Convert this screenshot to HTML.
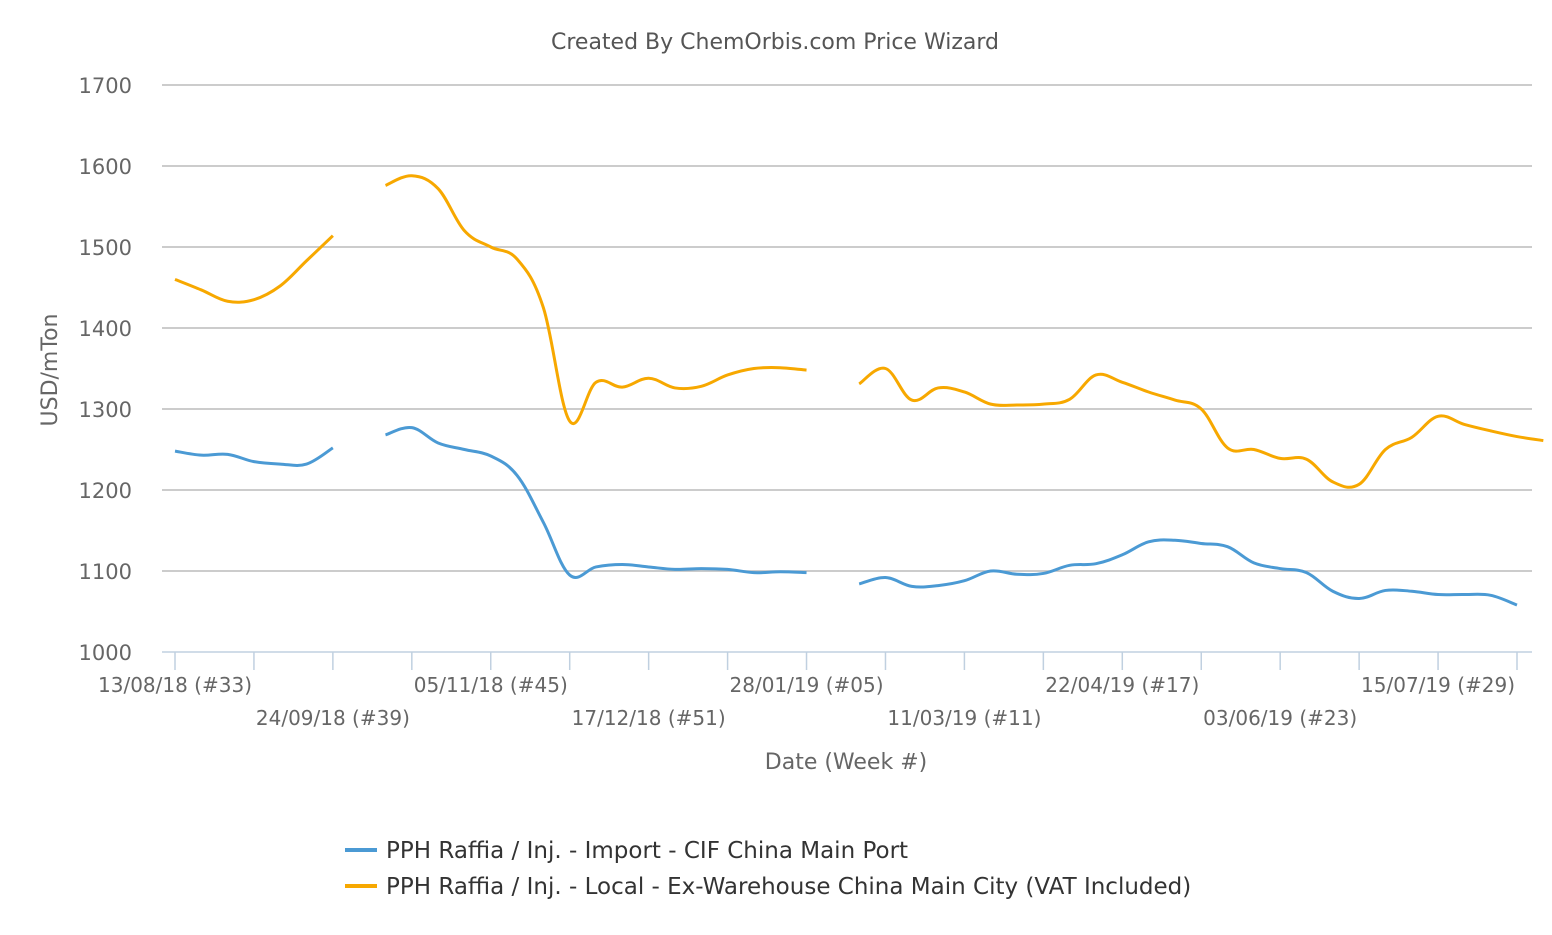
<!DOCTYPE html>
<html><head><meta charset="utf-8"><style>
body{margin:0;background:#fff;font-family:"Liberation Sans","DejaVu Sans",sans-serif}
svg text{font-family:"DejaVu Sans","Liberation Sans",sans-serif}
</style></head><body>
<svg id="c" width="1552" height="930">
<text x="775" y="49" text-anchor="middle" font-size="22" fill="#555">Created By ChemOrbis.com Price Wizard</text>
<text transform="translate(57,370) rotate(-90)" text-anchor="middle" font-size="22" fill="#666">USD/mTon</text>
<text x="846" y="769" text-anchor="middle" font-size="22" fill="#666">Date (Week #)</text>
<g id="grid"></g><g id="xt"></g><g id="series"></g>
<g>
<g><line x1="345" y1="850" x2="377" y2="850" stroke="#4b9ad4" stroke-width="4"/><text x="386" y="858" font-size="23" fill="#333">PPH Raffia / Inj. - Import - CIF China Main Port</text></g>
<g><line x1="345" y1="886" x2="377" y2="886" stroke="#f7a800" stroke-width="4"/><text x="386" y="894" font-size="23" fill="#333">PPH Raffia / Inj. - Local - Ex-Warehouse China Main City (VAT Included)</text></g>
</g>
</svg>
<script>
const yTicks=[1000,1100,1200,1300,1400,1500,1600,1700];
const xLabels=["13/08/18 (#33)","24/09/18 (#39)","05/11/18 (#45)","17/12/18 (#51)","28/01/19 (#05)","11/03/19 (#11)","22/04/19 (#17)","03/06/19 (#23)","15/07/19 (#29)"];
const importVals=[1248,1243,1244,1235,1232,1232,1252,null,1268,1277,1258,1250,1242,1218,1160,1095,1105,1108,1105,1102,1103,1102,1098,1099,1098,null,1084,1092,1081,1082,1088,1100,1096,1097,1107,1109,1120,1136,1138,1134,1130,1110,1103,1098,1075,1066,1076,1075,1071,1071,1070,1058];
const localVals=[1460,1447,1433,1435,1452,1483,1514,null,1576,1588,1572,1520,1500,1485,1425,1285,1333,1327,1338,1326,1328,1342,1350,1351,1348,null,1331,1350,1311,1326,1321,1306,1305,1306,1312,1342,1333,1321,1311,1300,1252,1250,1239,1238,1210,1207,1250,1265,1291,1281,1273,1266,1261];
const NS="http://www.w3.org/2000/svg";
const X=i=>175+i*(1517-175)/51;
const Y=v=>652-(v-1000)*(652-85)/700;
function mk(t,a,p){const e=document.createElementNS(NS,t);for(const k in a)e.setAttribute(k,a[k]);p.appendChild(e);return e;}
const grid=document.getElementById('grid');
yTicks.forEach(v=>{
 const l=mk('line',{x1:162,x2:1532,y1:Y(v),y2:Y(v),stroke:v===1000?'#c0d0e0':'#bbb','stroke-width':1.5},grid);
 
 
 const t=mk('text',{x:132,y:Y(v)+8,'text-anchor':'end','font-size':21,fill:'#666'},grid);
 t.textContent=v;
 
 
});
const xt=document.getElementById('xt');
for(let i=0;i<=51;i+=3){
 const l=mk('line',{x1:X(i),x2:X(i),y1:652,y2:670,stroke:'#c0d0e0','stroke-width':1.5},xt);
 
 
}
xLabels.forEach((s,k)=>{
 const t=mk('text',{x:X(k*6),y:k%2?725:692,'text-anchor':'middle','font-size':20,fill:'#666'},xt);
 t.textContent=s;
 
 
});
function path(vals){
 let segs=[],cur=[];
 vals.forEach((v,i)=>{if(v==null){if(cur.length)segs.push(cur);cur=[];}else cur.push([X(i),Y(v)]);});
 if(cur.length)segs.push(cur);
 let d='';
 segs.forEach(p=>{
  d+='M'+p[0][0]+','+p[0][1];
  for(let i=0;i<p.length-1;i++){
   const p0=p[i-1]||p[i],p1=p[i],p2=p[i+1],p3=p[i+2]||p2,s=0.18;
   d+='C'+(p1[0]+(p2[0]-p0[0])*s)+','+(p1[1]+(p2[1]-p0[1])*s)+' '+(p2[0]-(p3[0]-p1[0])*s)+','+(p2[1]-(p3[1]-p1[1])*s)+' '+p2[0]+','+p2[1];
  }
 });
 return d;
}
const sg=document.getElementById('series');
const a=mk('path',{d:path(importVals),fill:'none',stroke:'#4b9ad4','stroke-width':3},sg);


const b=mk('path',{d:path(localVals),fill:'none',stroke:'#f7a800','stroke-width':3},sg);


</script>
</body></html>
